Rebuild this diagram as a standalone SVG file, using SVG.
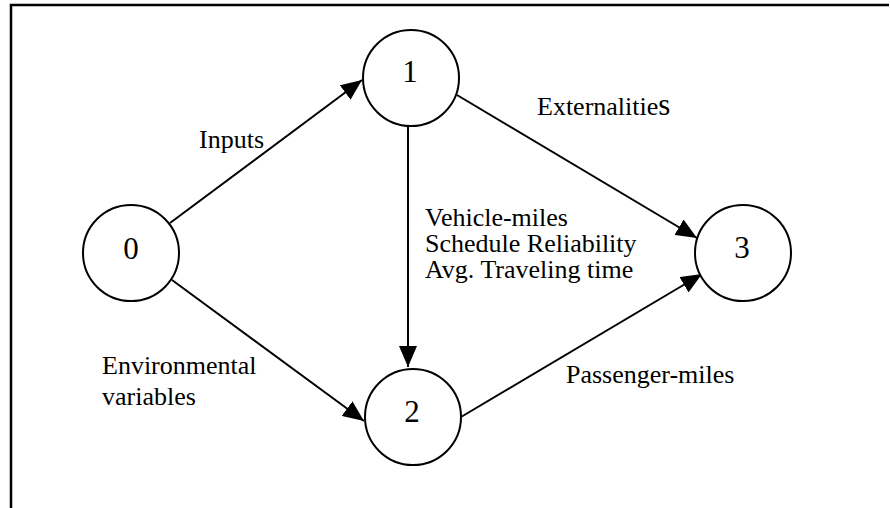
<svg xmlns="http://www.w3.org/2000/svg" width="890" height="508" viewBox="0 0 890 508">
<style>
.node{fill:#fff;stroke:#000;stroke-width:2}
.num{font-family:"Liberation Serif","Times New Roman",serif;font-size:31px;fill:#000;text-anchor:middle}
.lbl{font-family:"Liberation Serif","Times New Roman",serif;font-size:26px;fill:#000}
.edge{stroke:#000;stroke-width:2;fill:none;marker-end:url(#arr)}
</style>
<defs>
<marker id="arr" markerUnits="userSpaceOnUse" markerWidth="22" markerHeight="18" refX="21" refY="9" orient="auto">
<path d="M0,0 L21,9 L0,18 z" fill="#000"/>
</marker>
</defs>
<rect width="890" height="508" fill="#fff"/>
<path d="M11,508 L11,5 L889,5" fill="none" stroke="#000" stroke-width="2.5"/>
<g id="connectors">
<line class="edge" x1="170" y1="223" x2="362" y2="80"/>
<line class="edge" x1="172" y1="280" x2="364" y2="421"/>
<line class="edge" x1="408" y1="127" x2="408" y2="367"/>
<line class="edge" x1="457" y1="95" x2="697" y2="238"/>
<line class="edge" x1="461" y1="417" x2="702" y2="274"/>
</g>
<g id="node0"><circle class="node" cx="131" cy="253" r="48"/><text class="num" x="131" y="259">0</text></g>
<g id="node1"><circle class="node" cx="411" cy="78" r="48"/><text class="num" x="410" y="82">1</text></g>
<g id="node2"><circle class="node" cx="413" cy="417" r="48"/><text class="num" x="412" y="422">2</text></g>
<g id="node3"><circle class="node" cx="743" cy="253" r="48"/><text class="num" x="742" y="258">3</text></g>
<g id="labels">
<text class="lbl" x="199" y="148">Inputs</text>
<text class="lbl" x="537" y="115">Externalitie<tspan font-size="31">s</tspan></text>
<text class="lbl" x="425" y="226">Vehicle-miles</text>
<text class="lbl" x="425" y="252">Schedule Reliability</text>
<text class="lbl" x="425" y="278">Avg. Traveling time</text>
<text class="lbl" x="102" y="374">Environmental</text>
<text class="lbl" x="102" y="405">variables</text>
<text class="lbl" x="566" y="383">Passenger-miles</text>
</g>
</svg>
